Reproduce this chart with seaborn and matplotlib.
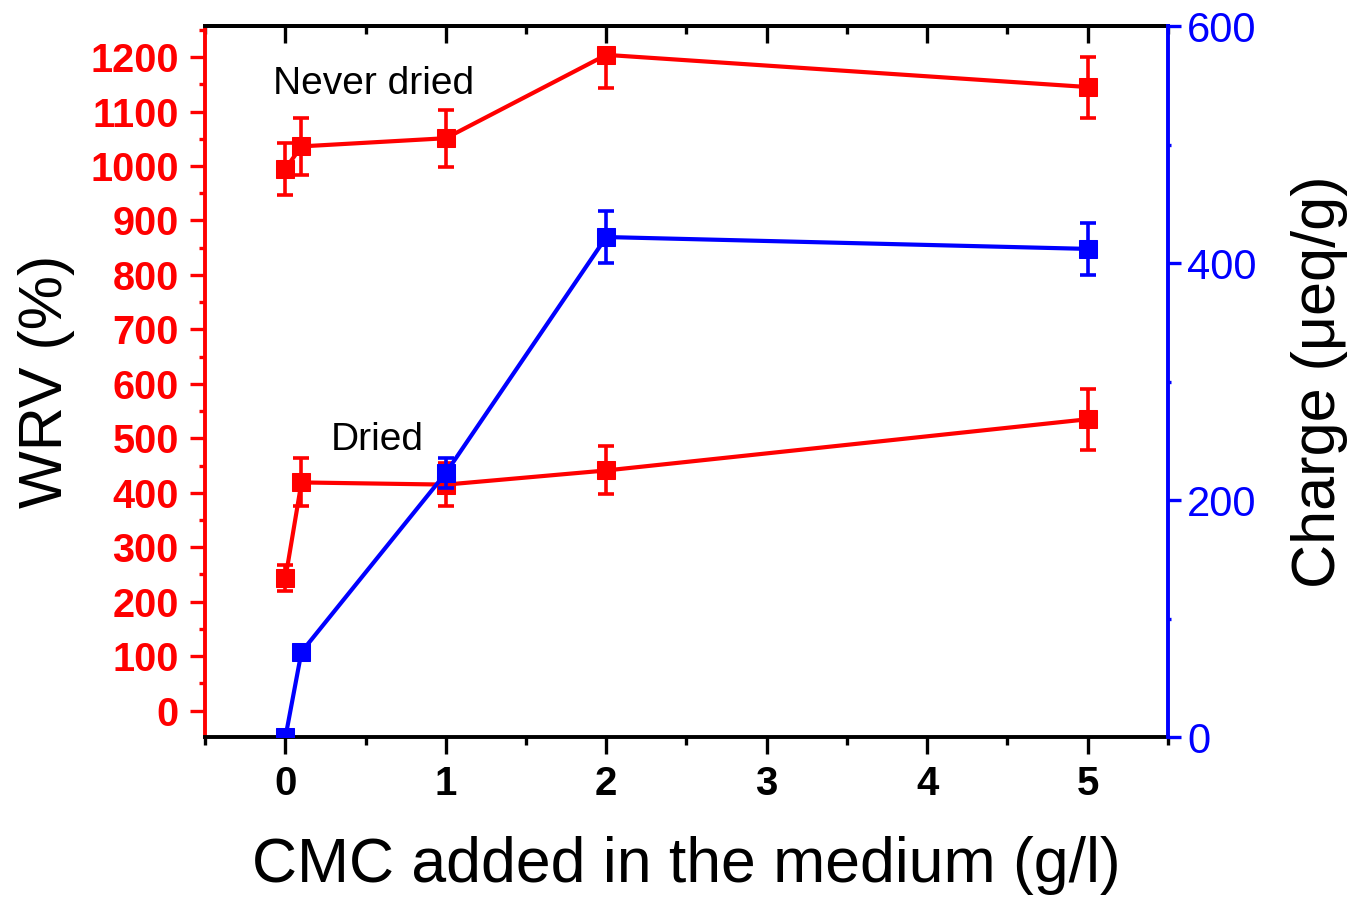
import numpy as np
import pandas as pd
import matplotlib
matplotlib.use("Agg")
import matplotlib.pyplot as plt
import seaborn as sns
from matplotlib.ticker import MultipleLocator

sns.set_style("white")
plt.rcParams['font.family'] = ['Liberation Sans', 'DejaVu Sans']
plt.rcParams['text.color'] = 'black'
plt.rcParams['axes.labelcolor'] = 'black'
plt.rcParams['xtick.color'] = 'black'

# ---- data ----
cmc = [0, 0.1, 1, 2, 5]
wrv_never_dried = [995, 1036, 1051, 1204, 1145]
wrv_never_dried_err_low = [48, 52, 52, 60, 56]
wrv_never_dried_err_high = [48, 52, 52, 0, 56]   # upper bar of x=2 runs off the axis (not drawn)
wrv_dried = [243, 419, 415, 441, 535]
wrv_dried_err = [24, 44, 40, 44, 56]
charge = [0, 72, 223, 422, 412]
charge_err = [0, 0, 13, 22, 22]

left_ticks = list(range(0, 1201, 100))
right_ticks = [0, 200, 400, 600]
x_ticks = [0, 1, 2, 3, 4, 5]

RED = '#ff0000'
BLUE = '#0000ff'

fig = plt.figure(figsize=(13.5, 8.97), dpi=100)
ax = fig.add_axes([0.152, 0.178, 0.713, 0.793])
ax2 = ax.twinx()

df_nd = pd.DataFrame({'x': cmc, 'y': wrv_never_dried})
df_d = pd.DataFrame({'x': cmc, 'y': wrv_dried})
df_c = pd.DataFrame({'x': cmc, 'y': charge})

lw = 3.0
ms = 12.5
ekw = dict(fmt='none', elinewidth=2.6, capsize=6, capthick=2.6, zorder=3)

ax.errorbar(df_nd['x'], df_nd['y'],
            yerr=[wrv_never_dried_err_low, wrv_never_dried_err_high], ecolor=RED, **ekw)
ax.errorbar(df_d['x'], df_d['y'], yerr=wrv_dried_err, ecolor=RED, **ekw)
for df in (df_nd, df_d):
    sns.lineplot(data=df, x='x', y='y', ax=ax, color=RED, linewidth=lw, marker='s',
                 markersize=ms, markeredgecolor=RED, zorder=4, sort=False)

ax2.errorbar(df_c['x'], df_c['y'], yerr=charge_err, ecolor=BLUE, **ekw)
sns.lineplot(data=df_c, x='x', y='y', ax=ax2, color=BLUE, linewidth=lw, marker='s',
             markersize=ms, markeredgecolor=BLUE, zorder=4, sort=False)

# axes limits
ax.set_xlim(-0.5, 5.5)
ax.set_ylim(-49, 1257)
ax2.set_ylim(0, 600)

# ticks
ax.set_xticks(x_ticks)
ax.set_xticklabels([str(t) for t in x_ticks], fontsize=29, fontweight='bold', color='black')
ax.xaxis.set_minor_locator(MultipleLocator(0.5))
ax.set_yticks(left_ticks)
ax.set_yticklabels([str(t) for t in left_ticks], fontsize=28.5, fontweight='bold', color=RED)
ax.yaxis.set_minor_locator(MultipleLocator(50))
ax2.set_yticks(right_ticks)
ax2.set_yticklabels([str(t) for t in right_ticks], fontsize=30, color=BLUE)
ax2.yaxis.set_minor_locator(MultipleLocator(100))

ax.tick_params(axis='x', which='major', direction='out', length=12, width=2.4,
               color='black', pad=8, bottom=True, top=False)
ax.tick_params(axis='x', which='minor', direction='out', length=6, width=2.4,
               color='black', bottom=True, top=False)
ax.tick_params(axis='y', which='major', direction='out', length=11, width=2.4,
               color=RED, pad=8, left=True, right=False)
ax.tick_params(axis='y', which='minor', direction='out', length=4, width=2.4,
               color=RED, left=True, right=False)
ax2.tick_params(axis='y', which='major', direction='out', length=9, width=2.4,
                color=BLUE, pad=5)
ax2.tick_params(axis='y', which='minor', direction='out', length=2, width=2.4,
                color=BLUE)

# top mirrored ticks (inward)
sec = ax.secondary_xaxis('top')
sec.set_xticks(x_ticks)
sec.xaxis.set_minor_locator(MultipleLocator(0.5))
sec.tick_params(axis='x', which='major', direction='in', length=12, width=2.4,
                labeltop=False, color='black')
sec.tick_params(axis='x', which='minor', direction='in', length=6, width=2.4,
                color='black')
sec.spines['top'].set_linewidth(2.8)
sec.spines['top'].set_color('black')

# spines
for a in (ax, ax2):
    for s in a.spines.values():
        s.set_linewidth(2.8)
ax.spines['left'].set_color(RED)
ax.spines['bottom'].set_color('black')
ax.spines['top'].set_color('black')
ax.spines['right'].set_visible(False)
ax2.spines['left'].set_visible(False)
ax2.spines['bottom'].set_visible(False)
ax2.spines['top'].set_visible(False)
ax2.spines['right'].set_color(BLUE)

# labels
ax.set_xlabel('CMC added in the medium (g/l)', fontsize=45, labelpad=24, color='black')
ax.set_ylabel('WRV (%)', fontsize=44, labelpad=11, color='black')
ax2.set_ylabel('Charge (μeq/g)', fontsize=44, labelpad=25, color='black')

# annotations
ax.text(-0.08, 1150, 'Never dried', fontsize=28, va='center', ha='left', color='black')
ax.text(0.28, 497, 'Dried', fontsize=28, va='center', ha='left', color='black')

fig.savefig('out.png', dpi=100)
